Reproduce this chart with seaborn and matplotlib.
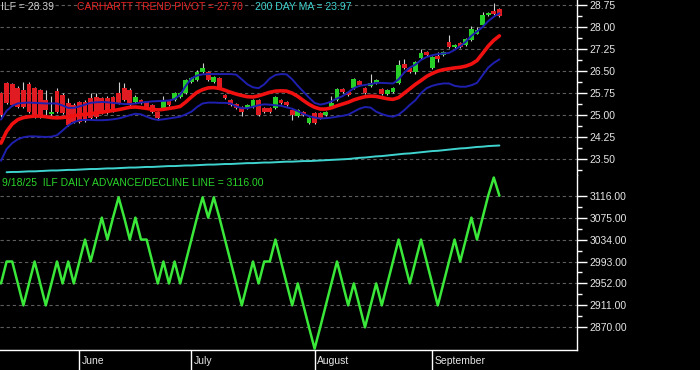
import numpy as np
import pandas as pd
import matplotlib
matplotlib.use("Agg")
import matplotlib.pyplot as plt
import matplotlib.transforms as mtransforms
from matplotlib.ticker import FixedLocator, FuncFormatter
import seaborn as sns

# ---------------- data (trading days 12 May 2025 .. 18 Sep 2025) ----------------
month_names = ["June", "July", "August", "September"]
month_start_idx = [14, 34, 56, 77]

opens = [25.75, 26.09, 26.06, 25.92, 25.85, 26.06, 25.92, 25.85, 25.51, 25.05,
         25.82, 25.68, 25.41, 25.34, 25.44, 25.44, 25.58, 25.61, 25.58, 25.58,
         25.61, 25.75, 25.92, 25.85, 25.44, 25.51, 25.44, 25.34, 25.10, 25.24,
         25.48, 25.51, 25.61, 25.75, 26.12, 26.19, 26.47, 26.47, 26.12, 26.26,
         25.68, 25.51, 25.38, 25.27, 25.24, 25.27, 25.51, 25.24, 25.24, 25.24,
         25.51, 25.44, 25.17, 24.97, 25.10, 24.73, 25.07, 25.07, 25.00, 25.27,
         25.51, 25.89, 25.78, 25.92, 26.16, 25.92, 25.99, 26.09, 25.89, 25.72,
         25.78, 26.09, 26.74, 26.60, 26.47, 26.94, 27.15, 26.60, 27.01, 27.05,
         27.49, 27.32, 27.45, 27.39, 27.56, 27.78, 28.07, 28.41, 28.55, 28.61]
highs = [25.80, 26.12, 26.10, 26.00, 26.12, 26.12, 25.95, 25.90, 25.85, 25.65,
         25.92, 25.75, 25.58, 25.40, 25.50, 25.51, 25.75, 25.75, 25.62, 25.65,
         25.65, 26.12, 26.09, 25.92, 25.68, 25.55, 25.48, 25.38, 25.14, 25.65,
         25.51, 25.78, 25.78, 26.22, 26.30, 26.55, 26.77, 26.50, 26.33, 26.30,
         25.72, 25.55, 25.41, 25.31, 25.38, 25.55, 25.55, 25.27, 25.27, 25.65,
         25.55, 25.48, 25.20, 25.20, 25.14, 24.93, 25.10, 25.10, 25.14, 25.65,
         25.92, 25.92, 25.82, 26.26, 26.19, 25.95, 26.40, 26.23, 25.92, 25.88,
         25.95, 26.88, 26.92, 26.63, 26.84, 27.25, 27.18, 27.01, 27.15, 27.20,
         27.72, 27.42, 27.49, 27.62, 28.05, 28.00, 28.50, 28.52, 28.82, 28.65]
lows = [24.95, 25.38, 25.30, 25.25, 25.24, 25.07, 24.90, 24.90, 24.95, 24.95,
        25.07, 25.03, 24.63, 24.73, 24.73, 24.76, 24.87, 24.90, 25.05, 25.05,
        25.12, 25.38, 25.48, 25.31, 25.41, 25.38, 25.24, 25.07, 24.83, 25.20,
        25.31, 25.48, 25.58, 25.72, 26.09, 26.16, 26.43, 26.16, 26.09, 25.89,
        25.55, 25.31, 25.20, 24.97, 25.20, 25.24, 24.97, 25.07, 25.09, 25.20,
        25.38, 25.31, 24.83, 24.93, 24.97, 24.70, 24.70, 24.87, 24.97, 25.24,
        25.48, 25.75, 25.65, 25.89, 25.99, 25.72, 25.96, 26.05, 25.68, 25.69,
        25.75, 26.06, 26.57, 26.43, 26.40, 26.91, 27.01, 26.57, 26.80, 27.01,
        27.28, 27.28, 27.28, 27.35, 27.52, 27.75, 28.03, 28.37, 28.41, 28.35]
closes = [25.00, 25.41, 25.34, 25.27, 25.27, 25.10, 24.93, 24.95, 25.17, 25.10,
          25.10, 25.07, 24.66, 24.76, 24.76, 24.80, 24.90, 24.93, 25.10, 25.10,
          25.17, 25.41, 25.51, 25.34, 25.61, 25.41, 25.27, 25.10, 24.90, 25.48,
          25.34, 25.75, 25.75, 26.19, 26.26, 26.47, 26.60, 26.19, 26.30, 25.92,
          25.58, 25.34, 25.24, 25.10, 25.34, 25.51, 25.00, 25.10, 25.12, 25.61,
          25.41, 25.34, 25.00, 25.17, 25.00, 24.90, 24.73, 24.90, 25.10, 25.41,
          25.89, 25.78, 25.68, 26.23, 26.02, 25.75, 26.09, 26.19, 25.72, 25.85,
          25.92, 26.70, 26.60, 26.47, 26.81, 27.11, 27.05, 26.98, 26.91, 27.15,
          27.32, 27.39, 27.32, 27.59, 27.93, 27.90, 28.41, 28.48, 28.44, 28.39]

trend_pivot = [24.05, 24.45, 24.70, 24.85, 24.92, 24.95, 24.97, 24.97, 24.95, 24.92,
               24.91, 24.92, 24.95, 24.98, 25.01, 25.03, 25.05, 25.08, 25.10, 25.13,
               25.16, 25.19, 25.23, 25.27, 25.28, 25.26, 25.23, 25.20, 25.18, 25.20,
               25.23, 25.26, 25.30, 25.45, 25.62, 25.78, 25.87, 25.93, 25.94, 25.91,
               25.85, 25.78, 25.72, 25.67, 25.63, 25.62, 25.66, 25.72, 25.78, 25.82,
               25.83, 25.82, 25.75, 25.64, 25.50, 25.37, 25.27, 25.21, 25.21, 25.25,
               25.32, 25.38, 25.44, 25.52, 25.58, 25.63, 25.65, 25.64, 25.60, 25.56,
               25.54, 25.60, 25.75, 25.90, 26.05, 26.18, 26.32, 26.42, 26.50, 26.55,
               26.58, 26.61, 26.63, 26.67, 26.74, 26.86, 27.10, 27.35, 27.55, 27.70]
upper_band = [24.85, 25.15, 25.32, 25.40, 25.42, 25.43, 25.42, 25.41, 25.40, 25.40,
              25.40, 25.33, 25.25, 25.25, 25.30, 25.36, 25.42, 25.44, 25.45, 25.44,
              25.42, 25.40, 25.38, 25.38, 25.40, 25.43, 25.45, 25.47, 25.48, 25.49,
              25.50, 25.55, 25.70, 26.00, 26.25, 26.35, 26.39, 26.40, 26.40, 26.40,
              26.40, 26.40, 26.38, 26.22, 26.05, 25.95, 25.92, 26.05, 26.25, 26.37,
              26.40, 26.39, 26.22, 26.00, 25.80, 25.60, 25.42, 25.36, 25.40, 25.47,
              25.57, 25.65, 25.78, 25.92, 26.00, 26.03, 26.06, 26.10, 26.10, 26.09,
              26.08, 26.22, 26.45, 26.62, 26.72, 26.88, 26.98, 27.04, 27.08, 27.10,
              27.12, 27.22, 27.35, 27.50, 27.70, 27.85, 28.00, 28.20, 28.35, 28.47]
lower_band = [23.45, 23.85, 24.05, 24.18, 24.25, 24.28, 24.28, 24.27, 24.26, 24.27,
              24.32, 24.48, 24.65, 24.76, 24.83, 24.84, 24.84, 24.83, 24.83, 24.84,
              24.86, 24.89, 24.94, 25.00, 25.05, 25.03, 24.95, 24.88, 24.84, 24.86,
              24.89, 24.92, 24.95, 25.03, 25.12, 25.28, 25.40, 25.43, 25.43, 25.42,
              25.42, 25.40, 25.30, 25.24, 25.24, 25.29, 25.34, 25.37, 25.36, 25.34,
              25.32, 25.27, 25.22, 25.14, 25.04, 24.97, 24.92, 24.89, 24.90, 24.92,
              24.95, 24.98, 25.02, 25.12, 25.22, 25.28, 25.26, 25.12, 25.04, 24.98,
              24.95, 25.02, 25.17, 25.35, 25.51, 25.75, 25.92, 26.00, 26.05, 26.08,
              26.08, 26.00, 25.97, 25.97, 26.02, 26.10, 26.36, 26.62, 26.78, 26.90]
ma200 = [np.nan, 23.06, 23.07, 23.07, 23.08, 23.09, 23.09, 23.10, 23.11, 23.12,
         23.12, 23.13, 23.14, 23.14, 23.15, 23.16, 23.17, 23.17, 23.18, 23.19,
         23.19, 23.20, 23.21, 23.22, 23.22, 23.23, 23.24, 23.24, 23.25, 23.26,
         23.27, 23.27, 23.28, 23.29, 23.29, 23.30, 23.31, 23.32, 23.32, 23.33,
         23.34, 23.34, 23.35, 23.36, 23.37, 23.37, 23.38, 23.39, 23.39, 23.40,
         23.41, 23.42, 23.42, 23.43, 23.44, 23.44, 23.45, 23.46, 23.47, 23.48,
         23.49, 23.50, 23.51, 23.53, 23.55, 23.56, 23.58, 23.60, 23.61, 23.63,
         23.65, 23.67, 23.69, 23.70, 23.72, 23.74, 23.76, 23.78, 23.79, 23.81,
         23.83, 23.85, 23.87, 23.88, 23.90, 23.92, 23.93, 23.95, 23.96, 23.97]

adl = [2952, 2993, 2993, 2952, 2911, 2952, 2993, 2952, 2911, 2952,
       2993, 2952, 2993, 2952, 2993, 3034, 2993, 3034, 3075, 3034,
       3075, 3113, 3075, 3034, 3075, 3034, 3034, 2993, 2952, 2993,
       2952, 2993, 2952, 2993, 3034, 3075, 3113, 3075, 3113, 3075,
       3034, 2993, 2952, 2911, 2952, 2993, 2952, 2993, 2993, 3034,
       2993, 2952, 2911, 2952, 2911, 2870, 2830, 2870, 2911, 2952,
       2993, 2952, 2911, 2952, 2911, 2870, 2911, 2952, 2911, 2952,
       2993, 3034, 2993, 2952, 2993, 3034, 2993, 2952, 2911, 2952,
       2993, 3034, 2993, 3034, 3075, 3034, 3075, 3116, 3150, 3116]

price_ticks = [23.50, 24.25, 25.00, 25.75, 26.50, 27.25, 28.00, 28.75]
adl_ticks = [2870, 2911, 2952, 2993, 3034, 3075, 3116]

# ---------------- styling ----------------
sns.set_style("dark", {"axes.facecolor": "black", "figure.facecolor": "black",
                       "axes.grid": False})
plt.rcParams['font.family'] = ['Liberation Sans', 'DejaVu Sans']

W, H = 700, 370
fig = plt.figure(figsize=(W / 100, H / 100), dpi=100, facecolor='black')


def rect(x0, y0, x1, y1):
    return [x0 / W, 1 - y1 / H, (x1 - x0) / W, (y1 - y0) / H]


ax_top = fig.add_axes(rect(0, 0, 577, 175))
ax_bot = fig.add_axes(rect(0, 175, 577, 350))

idx = np.arange(len(closes))
df = pd.DataFrame({"i": idx, "open": opens, "high": highs, "low": lows,
                   "close": closes, "pivot": trend_pivot, "upper": upper_band,
                   "lower": lower_band, "ma200": ma200, "adl": adl})

TXT = '#e6e6e6'
GRID = '#5c5c5c'
FS = 7.5

for ax in (ax_top, ax_bot):
    ax.set_facecolor('black')
    for s in ('top', 'left'):
        ax.spines[s].set_visible(False)
    ax.spines['right'].set_color('white')
    ax.spines['right'].set_linewidth(1.0)
    ax.spines['bottom'].set_color('white')
    ax.spines['bottom'].set_linewidth(1.0)
ax_top.spines['bottom'].set_visible(False)

# ---------------- top panel: candles + overlays ----------------
for v in price_ticks:
    ax_top.axhline(v, color=GRID, lw=0.8, ls=(0, (3, 2.5)), zorder=0)

ax_top.vlines(df["i"], df["low"], df["high"], colors='#d0d0d0', lw=0.8, zorder=2)
up = df["close"] >= df["open"]
body_bottom = np.minimum(df["open"], df["close"])
body_h = np.maximum(np.abs(df["close"] - df["open"]), 0.03)
ax_top.bar(df["i"], body_h, bottom=body_bottom, width=0.86,
           color=np.where(up, '#27d027', '#e11b22'), linewidth=0, zorder=3)

sns.lineplot(data=df, x="i", y="ma200", ax=ax_top, color='#3fd3cf', lw=1.4, zorder=4)
sns.lineplot(data=df, x="i", y="upper", ax=ax_top, color='#1f1fb0', lw=1.4, zorder=5)
sns.lineplot(data=df, x="i", y="lower", ax=ax_top, color='#1f1fb0', lw=1.4, zorder=5)
sns.lineplot(data=df, x="i", y="pivot", ax=ax_top, color='#f01010', lw=2.6, zorder=6)

ax_top.set_xlim(-0.18, 102.86)
ax_top.set_ylim(22.966, 28.92)
ax_top.set_xlabel('')
ax_top.set_ylabel('')
ax_top.set_xticks([])
ax_top.yaxis.tick_right()
ax_top.yaxis.set_major_locator(FixedLocator(price_ticks))
ax_top.yaxis.set_minor_locator(FixedLocator([t + 0.375 for t in price_ticks[:-1]] + [23.125]))
ax_top.yaxis.set_major_formatter(FuncFormatter(lambda v, p: f"{v:.2f}"))

# ---------------- bottom panel: advance / decline line ----------------
for v in adl_ticks:
    ax_bot.axhline(v, color=GRID, lw=0.8, ls=(0, (3, 2.5)), zorder=0)
sns.lineplot(data=df, x="i", y="adl", ax=ax_bot, color='#3ae83a', lw=1.8, zorder=3)
ax_bot.set_xlim(-0.18, 102.86)
ax_bot.set_ylim(2827.6, 3154.7)
ax_bot.set_xlabel('')
ax_bot.set_ylabel('')
ax_bot.yaxis.tick_right()
ax_bot.yaxis.set_major_locator(FixedLocator(adl_ticks))
ax_bot.yaxis.set_minor_locator(FixedLocator([t + 20.5 for t in adl_ticks[:-1]]))
ax_bot.yaxis.set_major_formatter(FuncFormatter(lambda v, p: f"{v:.2f}"))
ax_bot.set_xticks(month_start_idx)
ax_bot.set_xticklabels([])
ax_bot.tick_params(axis='x', which='major', length=14.5, width=1.0, color='white',
                   direction='out', bottom=True, top=False, labelbottom=False)

for ax in (ax_top, ax_bot):
    ax.tick_params(axis='y', which='major', length=7.2, width=1.0, color='white',
                   labelcolor=TXT, labelsize=FS, pad=2, right=True, left=False,
                   labelright=True, labelleft=False, direction='out')
    ax.tick_params(axis='y', which='minor', length=3.6, width=1.0, color='white',
                   right=True, left=False, direction='out')

trans = mtransforms.blended_transform_factory(ax_bot.transData, ax_bot.transAxes)
for name, m in zip(month_names, month_start_idx):
    ax_bot.text(m + 0.35, -14.3 / 175, name, transform=trans, color=TXT,
                fontsize=FS, ha='left', va='baseline')

# ---------------- header texts ----------------
def ftext(xp, yp_base, s, color):
    fig.text(xp / W, 1 - yp_base / H, s, color=color, fontsize=FS,
             ha='left', va='baseline')

ftext(1, 9.6, f"ILF = {closes[-1]:.2f}", '#cfcfcf')
ftext(77, 9.6, f"CARHARTT TREND PIVOT = {trend_pivot[-1]:.2f}", '#e42222')
ftext(255, 9.6, f"200 DAY MA = {ma200[-1]:.2f}", '#3fd3cf')
ftext(1.5, 185.7, f"9/18/25  ILF DAILY ADVANCE/DECLINE LINE = {adl[-1]:.2f}", '#2ad42a')

fig.savefig("out.png", dpi=100, facecolor='black')
